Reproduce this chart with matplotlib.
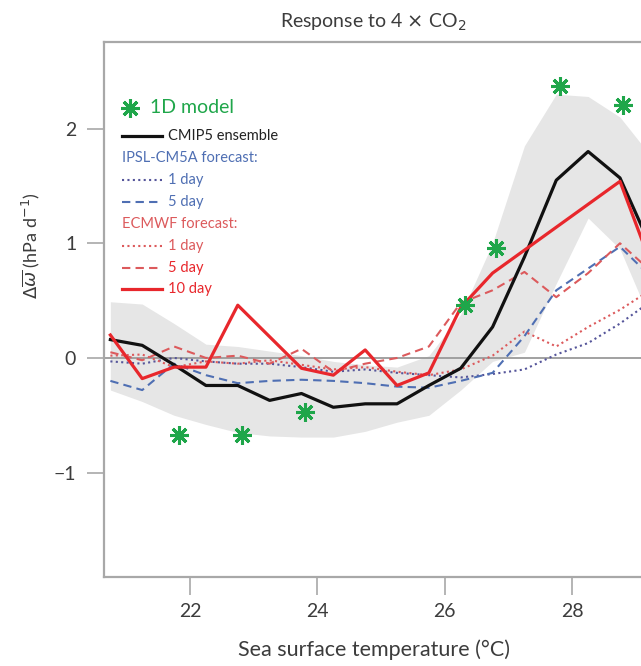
import numpy as np
import matplotlib.pyplot as plt
from matplotlib.lines import Line2D

plt.rcParams['font.family'] = ['Lato', 'DejaVu Sans']
plt.rcParams['mathtext.fontset'] = 'dejavusans'

# SST bins (deg C)
sst = [20.75, 21.25, 21.75, 22.25, 22.75, 23.25, 23.75, 24.25, 24.75,
       25.25, 25.75, 26.25, 26.75, 27.25, 27.75, 28.25, 28.75, 29.25]

# CMIP5 ensemble mean and spread
cmip5 = [0.16, 0.11, -0.06, -0.24, -0.24, -0.37, -0.31, -0.43, -0.40,
         -0.40, -0.24, -0.09, 0.27, 0.88, 1.55, 1.80, 1.57, 0.95]
cmip5_hi = [0.49, 0.47, 0.30, 0.12, 0.10, 0.06, 0.02, -0.03, -0.06,
            -0.08, 0.02, 0.38, 1.00, 1.85, 2.30, 2.28, 2.10, 1.75]
cmip5_lo = [-0.28, -0.38, -0.50, -0.58, -0.65, -0.68, -0.69, -0.69, -0.64,
            -0.56, -0.50, -0.28, -0.03, 0.05, 0.65, 1.22, 0.95, 0.30]

# IPSL-CM5A forecasts
ipsl_1d = [-0.03, -0.05, 0.00, -0.03, -0.05, -0.05, -0.08, -0.12, -0.10,
           -0.13, -0.15, -0.17, -0.14, -0.10, 0.03, 0.13, 0.30, 0.50]
ipsl_5d = [-0.20, -0.28, -0.05, -0.15, -0.22, -0.20, -0.19, -0.20, -0.22,
           -0.25, -0.26, -0.20, -0.13, 0.19, 0.59, 0.78, 0.97, 0.70]

# ECMWF forecasts
ecmwf_1d = [0.02, 0.03, -0.08, -0.03, -0.05, -0.02, -0.06, -0.10, -0.08,
            -0.12, -0.15, -0.10, 0.02, 0.23, 0.10, 0.27, 0.42, 0.60]
ecmwf_5d = [0.05, -0.02, 0.10, 0.00, 0.02, -0.05, 0.08, -0.12, -0.05,
            0.00, 0.10, 0.48, 0.59, 0.75, 0.53, 0.74, 1.00, 0.75]
sst_10d = [20.75, 21.25, 21.75, 22.25, 22.75, 23.75, 24.25, 24.75, 25.25,
           25.75, 26.25, 26.75, 28.75, 29.25]
ecmwf_10d = [0.20, -0.18, -0.08, -0.08, 0.46, -0.09, -0.15, 0.07, -0.24,
             -0.13, 0.44, 0.74, 1.54, 0.80]

# 1D model
sst_1d = [21.82, 22.81, 23.81, 26.32, 26.81, 27.81, 28.80]
model_1d = [-0.67, -0.67, -0.47, 0.46, 0.96, 2.37, 2.21]

xticks = [22, 24, 26, 28]
yticks = [-1, 0, 1, 2]

GREEN = '#1fa64a'
RED = '#e8272c'
RED_L = '#dc5a5c'
BLUE = '#4f6fb3'
NAVY = '#55559a'
AXC = '#a8a8a8'
TXT = '#3c3c3c'
STAR = (8, 2, 0)

fig = plt.figure(figsize=(6.41, 6.66), dpi=100)
ax = fig.add_axes([104 / 641, 89 / 666, 537 / 641, 535 / 666])

ax.fill_between(sst, cmip5_lo, cmip5_hi, color='#e6e6e6', lw=0, zorder=0)
ax.axhline(0, color='#9a9a9a', lw=1.3, zorder=1)

ax.plot(sst, ipsl_1d, color=NAVY, lw=1.5, ls=(0, (1, 1.6)), zorder=2)
ax.plot(sst, ipsl_5d, color=BLUE, lw=1.5, ls=(0, (4, 2.5)), zorder=2)
ax.plot(sst, ecmwf_1d, color=RED_L, lw=1.5, ls=(0, (1, 1.6)), zorder=2)
ax.plot(sst, ecmwf_5d, color=RED_L, lw=1.5, ls=(0, (4, 2.5)), zorder=2)
ax.plot(sst, cmip5, color='#111111', lw=2.3, zorder=3)
ax.plot(sst_10d, ecmwf_10d, color=RED, lw=2.3, zorder=4)
ax.plot(sst_1d, model_1d, ls='none', marker=STAR, ms=13.5, mew=2.2,
        color=GREEN, zorder=5)

ax.set_xlim(20.65, 29.08)
ax.set_ylim(-1.91, 2.755)
ax.set_xticks(xticks)
ax.set_yticks(yticks)
ax.set_yticklabels(['\u22121', '0', '1', '2'])

for s in ['left', 'bottom', 'top']:
    ax.spines[s].set_color(AXC)
    ax.spines[s].set_linewidth(1.6)
ax.spines['right'].set_visible(False)
ax.tick_params(axis='both', colors=AXC, labelcolor=TXT, labelsize=14,
               width=1.2)
ax.tick_params(axis='y', length=12, pad=8)
ax.tick_params(axis='x', length=13, pad=6)

ax.set_xlabel('Sea surface temperature (\u00b0C)', fontsize=15.5, color=TXT)
ax.xaxis.set_label_coords((374 - 104) / 537, -0.116)
ax.set_ylabel(r'$\Delta\overline{\omega}$ (hPa d$^{-1}$)', fontsize=13,
              color=TXT)
ax.yaxis.set_label_coords(-0.115, 0.62)
fig.text(373 / 641, 1 - 22 / 666, r'Response to 4 $\times$ CO$_2$',
         ha='center', va='center', fontsize=14, color=TXT)

# legend drawn by hand in axes fraction
x0, x1, xt = 0.034, 0.108, 0.119
ax.plot([0.048], [0.877], transform=ax.transAxes, marker=STAR, ms=13.5,
        mew=2.2, color=GREEN, ls='none', clip_on=False)
ax.text(0.086, 0.877, '1D model', transform=ax.transAxes, fontsize=14,
        color=GREEN, va='center')

rows = [
    (0.824, '#111111', '-', 2.3, 'CMIP5 ensemble', '#222222'),
    (0.742, NAVY, (0, (1, 1.6)), 1.5, '1 day', BLUE),
    (0.701, BLUE, (0, (4, 2.5)), 1.5, '5 day', BLUE),
    (0.619, RED_L, (0, (1, 1.6)), 1.5, '1 day', RED_L),
    (0.578, RED_L, (0, (4, 2.5)), 1.5, '5 day', RED),
    (0.538, RED, '-', 2.3, '10 day', RED),
]
for y, c, ls, lw, lab, tc in rows:
    ax.add_line(Line2D([x0, x1], [y, y], transform=ax.transAxes, color=c,
                       ls=ls, lw=lw))
    ax.text(xt, y, lab, transform=ax.transAxes, fontsize=10.5, color=tc,
            va='center')
ax.text(x0, 0.783, 'IPSL-CM5A forecast:', transform=ax.transAxes,
        fontsize=10.5, color=BLUE, va='center')
ax.text(x0, 0.660, 'ECMWF forecast:', transform=ax.transAxes,
        fontsize=10.5, color=RED_L, va='center')

fig.savefig('out.png', dpi=100)
